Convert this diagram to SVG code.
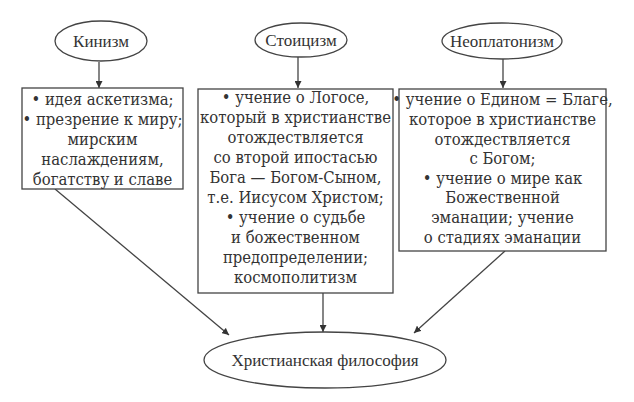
<svg xmlns="http://www.w3.org/2000/svg" width="634" height="402" viewBox="0 0 634 402">
<style>
.sh{fill:#fff;stroke:#444;stroke-width:1.3}
.c{stroke:#444;stroke-width:1.3;fill:none;marker-end:url(#ah)}
</style>
<defs>
<marker id="ah" viewBox="0 0 10 10" refX="10" refY="5" markerWidth="7" markerHeight="7" markerUnits="userSpaceOnUse" orient="auto">
<path d="M0,0 L10,5 L0,10 z" fill="#333"/>
</marker>
</defs>
<rect width="634" height="402" fill="#fff"/>
<g id="connectors">
<line class="c" x1="99" y1="62" x2="99" y2="88"/>
<line class="c" x1="298" y1="57" x2="298" y2="88"/>
<line class="c" x1="503" y1="59" x2="503" y2="88"/>
<line class="c" x1="55" y1="189" x2="229" y2="335"/>
<line class="c" x1="323" y1="293" x2="323" y2="332"/>
<line class="c" x1="505" y1="251" x2="414" y2="333"/>
</g>
<g font-family="Liberation Serif, serif" font-size="17" fill="#333" text-anchor="middle">
<g id="kinizm">
<ellipse class="sh" cx="101" cy="41" rx="46" ry="20"/>
<text x="101" y="47">Кинизм</text>
</g>
<g id="stoicizm">
<ellipse class="sh" cx="301" cy="40" rx="46" ry="17"/>
<text x="301" y="46">Стоицизм</text>
</g>
<g id="neoplatonizm">
<ellipse class="sh" cx="502" cy="41" rx="60" ry="18"/>
<text x="502" y="47">Неоплатонизм</text>
</g>
<g id="christian">
<ellipse class="sh" cx="325" cy="360" rx="121" ry="28"/>
<text x="325" y="366">Христианская философия</text>
</g>
</g>
<g font-family="DejaVu Serif Condensed, DejaVu Serif, serif" font-size="16.5" fill="#333" text-anchor="middle">
<g id="kinizm-box">
<rect class="sh" x="22" y="88" width="161" height="101"/>
<text x="102.5" y="105">• идея аскетизма;</text>
<text x="102.5" y="125">• презрение к миру;</text>
<text x="102.5" y="145">мирским</text>
<text x="102.5" y="165">наслаждениям,</text>
<text x="102.5" y="185">богатству и славе</text>
</g>
<g id="stoicizm-box">
<rect class="sh" x="198" y="89" width="195" height="204"/>
<text x="295.5" y="103">• учение о Логосе,</text>
<text x="295.5" y="123">который в христианстве</text>
<text x="295.5" y="143">отождествляется</text>
<text x="295.5" y="163">со второй ипостасью</text>
<text x="295.5" y="183">Бога — Богом-Сыном,</text>
<text x="295.5" y="203">т.е. Иисусом Христом;</text>
<text x="295.5" y="223">• учение о судьбе</text>
<text x="295.5" y="243">и божественном</text>
<text x="295.5" y="263">предопределении;</text>
<text x="295.5" y="283">космополитизм</text>
</g>
<g id="neoplatonizm-box">
<rect class="sh" x="399" y="89" width="207" height="162"/>
<text x="502.5" y="105">• учение о Едином = Благе,</text>
<text x="502.5" y="125">которое в христианстве</text>
<text x="502.5" y="145">отождествляется</text>
<text x="502.5" y="164">с Богом;</text>
<text x="502.5" y="184">• учение о мире как</text>
<text x="502.5" y="203">Божественной</text>
<text x="502.5" y="223">эманации; учение</text>
<text x="502.5" y="243">о стадиях эманации</text>
</g>
</g>
</svg>
